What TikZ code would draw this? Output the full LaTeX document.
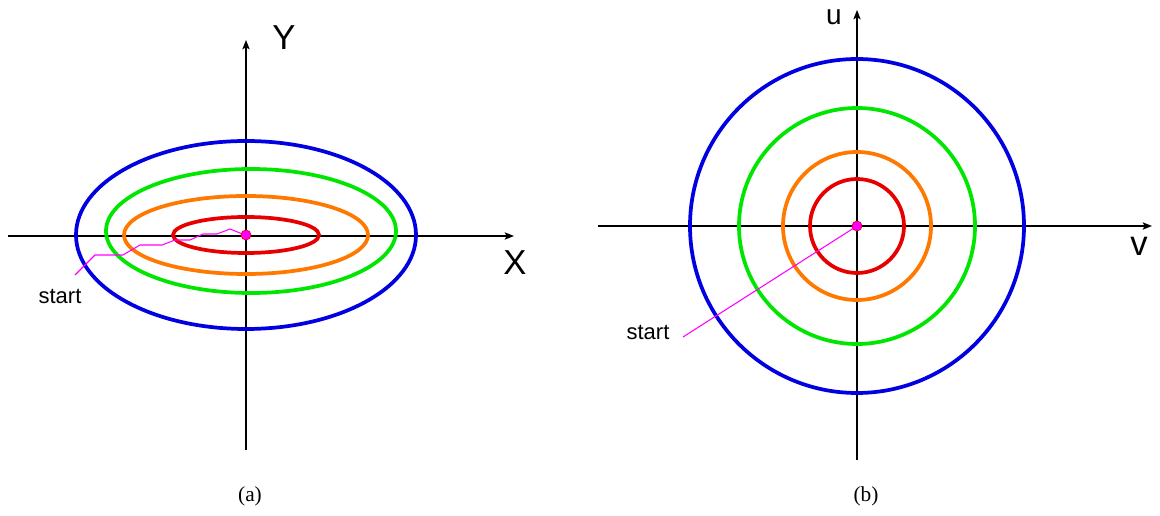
\documentclass[tikz,border=0pt]{standalone}
\usepackage{fontspec}
\setmainfont{Liberation Serif}
\newfontfamily\arial{Liberation Sans}
\usetikzlibrary{arrows.meta}
\definecolor{cblue}{RGB}{0,0,225}
\definecolor{cgreen}{RGB}{0,230,0}
\definecolor{corange}{RGB}{255,120,0}
\definecolor{cred}{RGB}{230,0,0}
\definecolor{cmag}{RGB}{255,0,255}
\begin{document}
\begin{tikzpicture}[x=0.75pt,y=-0.75pt,
  axisline/.style={line width=0.9pt,-{Stealth[length=7pt,width=5.5pt,inset=1.5pt]}},
  contour/.style={line width=2.8pt},
  lab/.style={font=\arial\fontsize{26}{30}\selectfont,inner sep=0pt},
  smalllab/.style={font=\arial\fontsize{21}{25}\selectfont,inner sep=0pt},
  startlab/.style={font=\arial\fontsize{16.5}{20}\selectfont,inner sep=0pt},
  captxt/.style={font=\fontsize{16}{19}\selectfont,inner sep=0pt},
  trail/.style={cmag,line width=0.8pt},
  dotnode/.style={circle,fill=cmag,draw=cred,line width=0.5pt,minimum size=7.5pt,inner sep=0pt}]
\useasboundingbox (0,0) rectangle (1160,516);
% ---------- panel (a)
\coordinate (ca) at (246,235);
\coordinate (cg) at (251,231);
\coordinate (axl) at (8,236);
\coordinate (axr) at (514,236);
\coordinate (ayb) at (246,450);
\coordinate (ayt) at (246,40);
\draw[axisline] (axl) -- (axr);
\draw[axisline] (ayb) -- (ayt);
\draw[contour,cblue] (ca) ellipse [x radius=170, y radius=94];
\draw[contour,cgreen] (cg) ellipse [x radius=145, y radius=62];
\draw[contour,corange] (ca) ellipse [x radius=122, y radius=39];
\draw[contour,cred] (ca) ellipse [x radius=73, y radius=18];
\coordinate (sa) at (75,275);
\draw[trail] (sa) -- (95,255) -- (123,255) -- (140,245) -- (162,245) -- (175,240) -- (190,240) -- (203,234) -- (217,234) -- (230,229) -- (240,233) -- (ca);
\node[dotnode] (da) at (ca) {};
\node[lab] (Y) at (284,38) {Y};
\node[lab] (X) at (515,263) {X};
\node[startlab] (starta) at (60,296) {start};
\node[captxt] (capa) at (250,496) {(a)};
% ---------- panel (b)
\coordinate (cb) at (857,226);
\coordinate (bxl) at (598,226);
\coordinate (bxr) at (1152,226);
\coordinate (byb) at (857,460);
\coordinate (byt) at (857,10);
\draw[axisline] (bxl) -- (bxr);
\draw[axisline] (byb) -- (byt);
\draw[contour,cblue] (cb) circle [radius=167];
\draw[contour,cgreen] (cb) circle [radius=118];
\draw[contour,corange] (cb) circle [radius=74];
\draw[contour,cred] (cb) circle [radius=47];
\coordinate (sb) at (683,337);
\draw[trail] (sb) -- (cb);
\node[dotnode] (db) at (cb) {};
\node[smalllab] (u) at (834,17) {u};
\node[lab] (v) at (1139,246) {v};
\node[startlab] (startb) at (648,332) {start};
\node[captxt] (capb) at (866,496) {(b)};
\end{tikzpicture}
\end{document}
